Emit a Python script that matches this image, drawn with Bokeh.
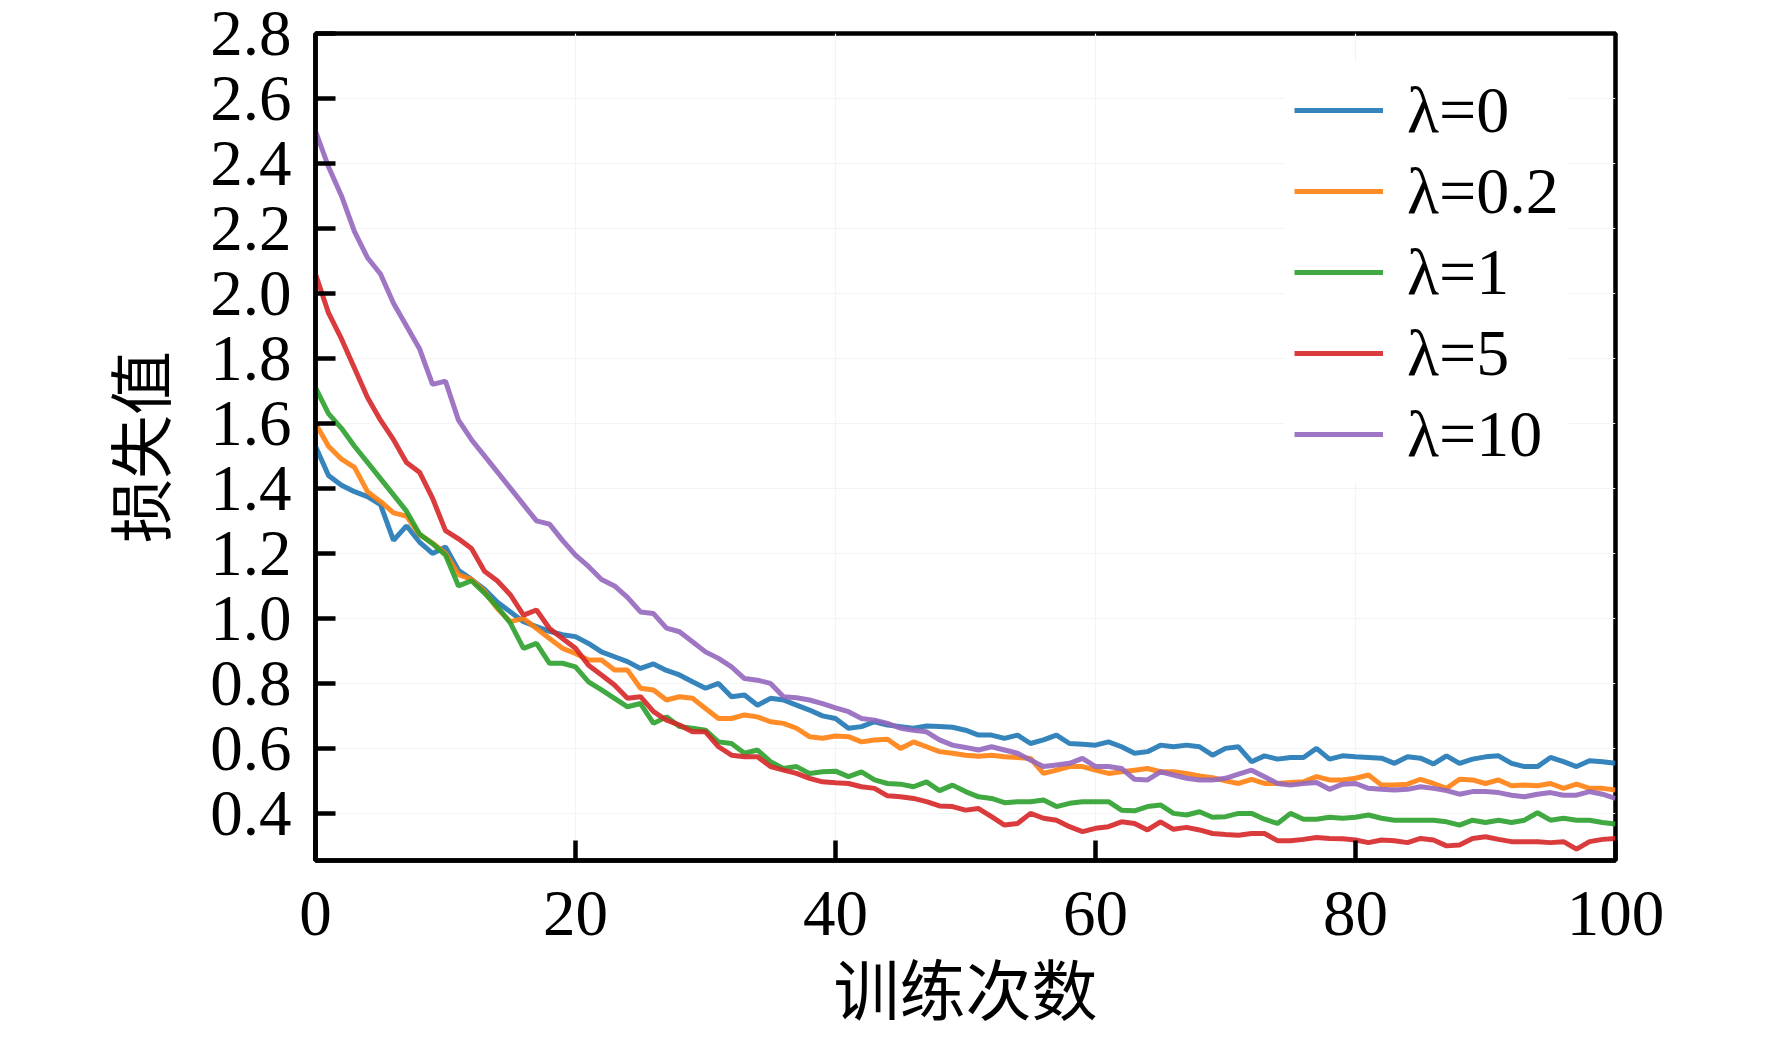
from bokeh.plotting import figure
from bokeh.models import Range1d, FixedTicker, NumeralTickFormatter, Legend, LegendItem
from bokeh.embed import file_html
from bokeh.resources import INLINE

epochs = list(range(0, 101))

loss_l0 = [1.53, 1.44, 1.41, 1.39, 1.375, 1.35, 1.24, 1.285, 1.235, 1.20,
           1.22, 1.148, 1.12, 1.09, 1.05, 1.02, 0.99, 0.975, 0.96, 0.95,
           0.944, 0.923, 0.897, 0.882, 0.867, 0.846, 0.86, 0.84, 0.826, 0.805,
           0.785, 0.80, 0.759, 0.764, 0.733, 0.754, 0.749, 0.733, 0.718, 0.70,
           0.692, 0.662, 0.667, 0.682, 0.672, 0.667, 0.662, 0.669, 0.667, 0.665,
           0.656, 0.641, 0.641, 0.631, 0.641, 0.615, 0.626, 0.641, 0.615, 0.613,
           0.61, 0.62, 0.605, 0.585, 0.59, 0.61, 0.605, 0.61, 0.605, 0.579,
           0.60, 0.605, 0.559, 0.577, 0.567, 0.572, 0.572, 0.60, 0.567, 0.577,
           0.574, 0.572, 0.57, 0.554, 0.574, 0.57, 0.552, 0.577, 0.554, 0.567,
           0.574, 0.577, 0.554, 0.544, 0.544, 0.572, 0.559, 0.544, 0.562, 0.559,
           0.554]

loss_l02 = [1.60, 1.53, 1.49, 1.465, 1.39, 1.36, 1.325, 1.315, 1.258, 1.232,
            1.20, 1.135, 1.12, 1.083, 1.03, 0.99, 1.0, 0.969, 0.938, 0.908,
            0.892, 0.872, 0.872, 0.841, 0.841, 0.785, 0.78, 0.749, 0.759, 0.754,
            0.723, 0.692, 0.692, 0.703, 0.697, 0.682, 0.677, 0.662, 0.636, 0.631,
            0.638, 0.636, 0.62, 0.626, 0.628, 0.60, 0.62, 0.605, 0.59, 0.585,
            0.579, 0.576, 0.579, 0.574, 0.572, 0.569, 0.523, 0.533, 0.544, 0.544,
            0.533, 0.523, 0.528, 0.533, 0.538, 0.528, 0.528, 0.523, 0.515, 0.51,
            0.50, 0.492, 0.505, 0.492, 0.492, 0.495, 0.497, 0.513, 0.503, 0.503,
            0.508, 0.518, 0.487, 0.487, 0.49, 0.505, 0.492, 0.477, 0.505, 0.503,
            0.492, 0.503, 0.485, 0.487, 0.485, 0.492, 0.477, 0.49, 0.477, 0.477,
            0.472]

loss_l1 = [1.71, 1.63, 1.585, 1.53, 1.48, 1.43, 1.38, 1.33, 1.26, 1.23,
           1.195, 1.10, 1.116, 1.078, 1.035, 0.985, 0.908, 0.923, 0.862, 0.862,
           0.851, 0.805, 0.78, 0.754, 0.728, 0.738, 0.677, 0.697, 0.667, 0.662,
           0.656, 0.62, 0.615, 0.585, 0.595, 0.559, 0.538, 0.544, 0.523, 0.528,
           0.53, 0.513, 0.528, 0.503, 0.492, 0.49, 0.482, 0.497, 0.47, 0.487,
           0.467, 0.451, 0.446, 0.433, 0.436, 0.436, 0.441, 0.421, 0.431, 0.436,
           0.436, 0.436, 0.41, 0.408, 0.421, 0.426, 0.40, 0.395, 0.405, 0.388,
           0.39, 0.40, 0.40, 0.382, 0.369, 0.40, 0.382, 0.382, 0.388, 0.385,
           0.388, 0.395, 0.385, 0.379, 0.379, 0.379, 0.379, 0.374, 0.364, 0.379,
           0.372, 0.379, 0.372, 0.379, 0.402, 0.379, 0.385, 0.379, 0.379, 0.372,
           0.367]

loss_l5 = [2.06, 1.94, 1.86, 1.77, 1.68, 1.61, 1.55, 1.48, 1.45, 1.37,
           1.27, 1.245, 1.215, 1.145, 1.115, 1.072, 1.01, 1.026, 0.969, 0.938,
           0.908, 0.856, 0.826, 0.795, 0.754, 0.759, 0.713, 0.687, 0.672, 0.651,
           0.651, 0.605, 0.579, 0.574, 0.574, 0.544, 0.533, 0.523, 0.508, 0.497,
           0.494, 0.492, 0.482, 0.477, 0.454, 0.451, 0.446, 0.436, 0.423, 0.421,
           0.41, 0.415, 0.39, 0.364, 0.369, 0.40, 0.385, 0.379, 0.359, 0.344,
           0.354, 0.359, 0.374, 0.369, 0.349, 0.374, 0.351, 0.357, 0.349, 0.338,
           0.335, 0.333, 0.338, 0.338, 0.316, 0.316, 0.32, 0.326, 0.323, 0.322,
           0.318, 0.31, 0.318, 0.316, 0.31, 0.323, 0.318, 0.30, 0.303, 0.323,
           0.328, 0.32, 0.313, 0.313, 0.313, 0.31, 0.313, 0.29, 0.313, 0.32,
           0.323]

loss_l10 = [2.50, 2.39, 2.30, 2.19, 2.11, 2.06, 1.97, 1.90, 1.83, 1.72,
            1.73, 1.61, 1.55, 1.50, 1.45, 1.40, 1.35, 1.30, 1.29, 1.24,
            1.195, 1.16, 1.12, 1.10, 1.065, 1.02, 1.015, 0.97, 0.959, 0.928,
            0.897, 0.877, 0.851, 0.815, 0.81, 0.80, 0.759, 0.756, 0.749, 0.738,
            0.725, 0.713, 0.692, 0.687, 0.677, 0.662, 0.656, 0.651, 0.626, 0.61,
            0.603, 0.595, 0.605, 0.595, 0.585, 0.564, 0.544, 0.549, 0.554, 0.569,
            0.544, 0.544, 0.538, 0.505, 0.503, 0.528, 0.518, 0.508, 0.503, 0.503,
            0.508, 0.521, 0.533, 0.513, 0.492, 0.487, 0.492, 0.495, 0.474, 0.49,
            0.492, 0.477, 0.474, 0.472, 0.474, 0.482, 0.477, 0.47, 0.459, 0.467,
            0.467, 0.464, 0.456, 0.451, 0.459, 0.464, 0.456, 0.456, 0.467, 0.459,
            0.446]

series_labels = ["λ=0", "λ=0.2", "λ=1", "λ=5", "λ=10"]
series_colors = ["#1f77b4", "#ff7f0e", "#2ca02c", "#d62728", "#9467bd"]
series_values = [loss_l0, loss_l02, loss_l1, loss_l5, loss_l10]

x_ticks = [0, 20, 40, 60, 80, 100]
y_ticks = [0.4, 0.6, 0.8, 1.0, 1.2, 1.4, 1.6, 1.8, 2.0, 2.2, 2.4, 2.6, 2.8]

x_title = "训练次数"
y_title = "损失值"

W, H = 1756, 1042
p = figure(width=W, height=H, output_backend="svg", toolbar_location=None,
           x_range=Range1d(0, 100), y_range=Range1d(0.255, 2.8),
           min_border_left=315, min_border_top=33,
           min_border_right=W - 1615, min_border_bottom=H - 860)

p.background_fill_color = "white"
p.border_fill_color = "white"
p.outline_line_color = "black"
p.outline_line_width = 4.5

serif = "Liberation Serif"
cjk = "Noto Sans CJK SC"

for ax in (p.xaxis[0], p.yaxis[0]):
    ax.axis_line_width = 4.5
    ax.axis_line_color = "black"
    ax.major_tick_in = 20
    ax.major_tick_out = 0
    ax.major_tick_line_width = 4.5
    ax.major_tick_line_color = "black"
    ax.minor_tick_line_color = None
    ax.major_label_text_font = serif
    ax.major_label_text_font_size = "65px"
    ax.major_label_text_color = "black"
    ax.axis_label_text_font = cjk
    ax.axis_label_text_font_style = "normal"
    ax.axis_label_text_color = "black"

p.xaxis[0].axis_label_text_font_size = "66px"
p.yaxis[0].axis_label_text_font_size = "64px"
p.xaxis[0].ticker = FixedTicker(ticks=x_ticks)
p.yaxis[0].ticker = FixedTicker(ticks=y_ticks)
p.yaxis[0].formatter = NumeralTickFormatter(format="0.0")
p.xaxis[0].major_label_standoff = 31
p.yaxis[0].major_label_standoff = 24
p.xaxis[0].axis_label = x_title
p.yaxis[0].axis_label = y_title
p.xaxis[0].axis_label_standoff = 0
p.yaxis[0].axis_label_standoff = 24

p.xgrid.grid_line_color = "#f4f4f4"
p.ygrid.grid_line_color = "#f4f4f4"
p.xgrid.grid_line_width = 1.2
p.ygrid.grid_line_width = 1.2

items = []
for lab, col, vals in zip(series_labels, series_colors, series_values):
    r = p.line(epochs, vals, line_color=col, line_width=5, line_alpha=0.9)
    items.append(LegendItem(label=lab, renderers=[r]))

legend = Legend(items=items, location=(969, 378))
legend.label_text_font = serif
legend.label_text_font_size = "66px"
legend.label_text_color = "black"
legend.glyph_width = 89
legend.glyph_height = 60
legend.label_height = 60
legend.spacing = 5
legend.label_standoff = 24
legend.padding = 10
legend.margin = 0
legend.border_line_alpha = 0
legend.background_fill_color = "white"
legend.background_fill_alpha = 1.0
p.add_layout(legend)

open("out.html", "w").write(file_html(p, INLINE))
